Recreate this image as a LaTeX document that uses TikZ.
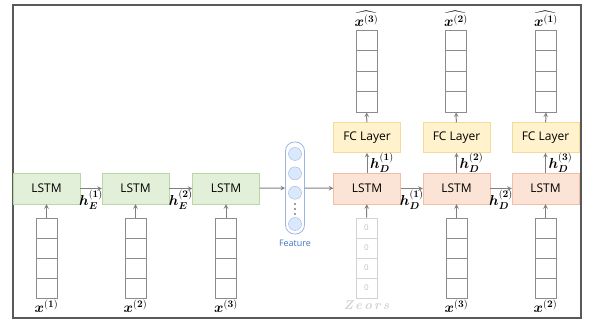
\documentclass[tikz,border=0pt]{standalone}
\usepackage{amsmath,amssymb,bm}
\usepackage{fontspec}
\setsansfont{Open Sans}
\usepackage{tikz}
\usetikzlibrary{shapes,arrows,positioning,calc}

\definecolor{encfill}{HTML}{E2F0D9}
\definecolor{encline}{HTML}{B9D8A6}
\definecolor{decfill}{HTML}{FBE3D6}
\definecolor{decline}{HTML}{F2BFA6}
\definecolor{fcfill}{HTML}{FFF2CC}
\definecolor{fcline}{HTML}{F3DC9A}
\definecolor{featfill}{HTML}{DAE8FC}
\definecolor{featline}{HTML}{9DB5E2}
\definecolor{feattext}{HTML}{4472C4}
\definecolor{arrgray}{HTML}{7F7F7F}
\definecolor{cellgray}{HTML}{8C8C8C}
\definecolor{framegray}{HTML}{595959}

\begin{document}
\begin{tikzpicture}[
    x=1pt, y=1pt,
    enclstm/.style={rectangle, draw=encline, fill=encfill, minimum width=67pt,
                    minimum height=31pt, font=\sffamily\fontsize{12}{14}\selectfont},
    declstm/.style={rectangle, draw=decline, fill=decfill, minimum width=67pt,
                    minimum height=31pt, font=\sffamily\fontsize{12}{14}\selectfont},
    fclayer/.style={rectangle, draw=fcline, fill=fcfill, minimum width=67pt,
                    minimum height=30pt, font=\sffamily\fontsize{12}{14}\selectfont},
    cell/.style={rectangle, draw=cellgray, line width=0.8pt, minimum width=21pt,
                 minimum height=20pt, inner sep=0pt},
    outcell/.style={cell, minimum height=20.5pt},
    zcell/.style={cell, draw=gray!35, text=gray!50, font=\sffamily\footnotesize},
    neuron/.style={circle, draw=featline, fill=featfill, minimum size=13pt, inner sep=0pt},
    dot/.style={circle, fill=arrgray, minimum size=2.2pt, inner sep=0pt},
    mathlbl/.style={inner sep=0.5pt, font=\fontsize{14}{16}\selectfont},
    arrow/.style={->, >=stealth, draw=arrgray, line width=1pt}
]
\useasboundingbox (0,0) rectangle (592,320);
\draw[framegray, line width=1.2pt] (13,2) rectangle (581,315);

% encoder
\node[enclstm] (enc1) at (46.5,131.5) {LSTM};
\node[enclstm] (enc2) at (135.5,131.5) {LSTM};
\node[enclstm] (enc3) at (226,131.5) {LSTM};

% decoder
\node[declstm] (dec1) at (367,131.5) {LSTM};
\node[declstm] (dec2) at (456.5,131.5) {LSTM};
\node[declstm] (dec3) at (545.5,131.5) {LSTM};
\node[fclayer, above=20pt of dec1] (fc1) {FC Layer};
\node[fclayer, above=20pt of dec2] (fc2) {FC Layer};
\node[fclayer, above=20pt of dec3] (fc3) {FC Layer};

% input and output vectors
\foreach \cname/\xx in {encin1/46.5, encin2/135.5, encin3/226, decin2/456.5, decin3/545.5}
    \foreach \c in {1,...,4}
        \node[cell] (\cname-\c) at (\xx,112-20*\c) {};
\foreach \c in {1,...,4}
    \node[zcell] (decin1-\c) at (366.5,112-20*\c) {0};
\foreach \cname/\xx in {out3/366.5, out2/456, out1/546}
    \foreach \c in {1,...,4}
        \node[outcell] (\cname-\c) at (\xx,300.25-20.5*\c) {};

\node[mathlbl, below=1pt of encin1-4] (lxa) {$\bm{x}^{(\bm{1})}$};
\node[mathlbl, below=1pt of encin2-4] (lxb) {$\bm{x}^{(\bm{2})}$};
\node[mathlbl, below=1pt of encin3-4] (lxc) {$\bm{x}^{(\bm{3})}$};
\node[below=1pt of decin1-4, inner sep=1pt, text=gray!35,
      font=\bfseries\itshape\fontsize{13}{15}\selectfont] (lzero) {Z\,e\,o\,r\,s};
\node[mathlbl, below=1pt of decin2-4] (lxd) {$\bm{x}^{(\bm{3})}$};
\node[mathlbl, below=1pt of decin3-4] (lxe) {$\bm{x}^{(\bm{2})}$};
\node[mathlbl, above=2pt of out3-1] (lo3) {$\widehat{\bm{x}^{(\bm{3})}}$};
\node[mathlbl, above=2pt of out2-1] (lo2) {$\widehat{\bm{x}^{(\bm{2})}}$};
\node[mathlbl, above=2pt of out1-1] (lo1) {$\widehat{\bm{x}^{(\bm{1})}}$};

% feature vector
\node[draw=featline, line width=0.8pt, rounded corners=9pt, minimum width=19pt,
      minimum height=92pt, inner sep=0pt] (feat) at (295,132) {};
\node[neuron] (n1) at (295,166) {};
\node[neuron, below=6pt of n1] (n2) {};
\node[neuron, below=6pt of n2] (n3) {};
\node[neuron] (n4) at (295,96) {};
\node[dot] (d1) at (295,116) {};
\node[dot] (d2) at (295,111) {};
\node[dot] (d3) at (295,106) {};
\node[below=2pt of feat, text=feattext, font=\sffamily\fontsize{9}{11}\selectfont] (featlbl) {Feature};

% connectors
\draw[arrow] (encin1-1) -- (enc1);
\draw[arrow] (encin2-1) -- (enc2);
\draw[arrow] (encin3-1) -- (enc3);
\draw[arrow] (decin1-1) -- (dec1);
\draw[arrow] (decin2-1) -- (dec2);
\draw[arrow] (decin3-1) -- (dec3);
\draw[arrow] (enc1) -- node[mathlbl, below=1pt] {$\bm{h}_{\bm{E}}^{(\bm{1})}$} (enc2);
\draw[arrow] (enc2) -- node[mathlbl, below=1pt] {$\bm{h}_{\bm{E}}^{(\bm{2})}$} (enc3);
\draw[arrow] (enc3) -- (feat);
\draw[arrow] (feat) -- (dec1);
\draw[arrow] (dec1) -- node[mathlbl, below=1pt] {$\bm{h}_{\bm{D}}^{(\bm{1})}$} (dec2);
\draw[arrow] (dec2) -- node[mathlbl, below=1pt] {$\bm{h}_{\bm{D}}^{(\bm{2})}$} (dec3);
\draw[arrow] (dec1) -- node[mathlbl, right=2pt] {$\bm{h}_{\bm{D}}^{(\bm{1})}$} (fc1);
\draw[arrow] (dec2) -- node[mathlbl, right=2pt] {$\bm{h}_{\bm{D}}^{(\bm{2})}$} (fc2);
\draw[arrow] (dec3) -- node[mathlbl, right=2pt] {$\bm{h}_{\bm{D}}^{(\bm{3})}$} (fc3);
\draw[arrow] (fc1) -- (out3-4);
\draw[arrow] (fc2) -- (out2-4);
\draw[arrow] (fc3) -- (out1-4);
\end{tikzpicture}
\end{document}
